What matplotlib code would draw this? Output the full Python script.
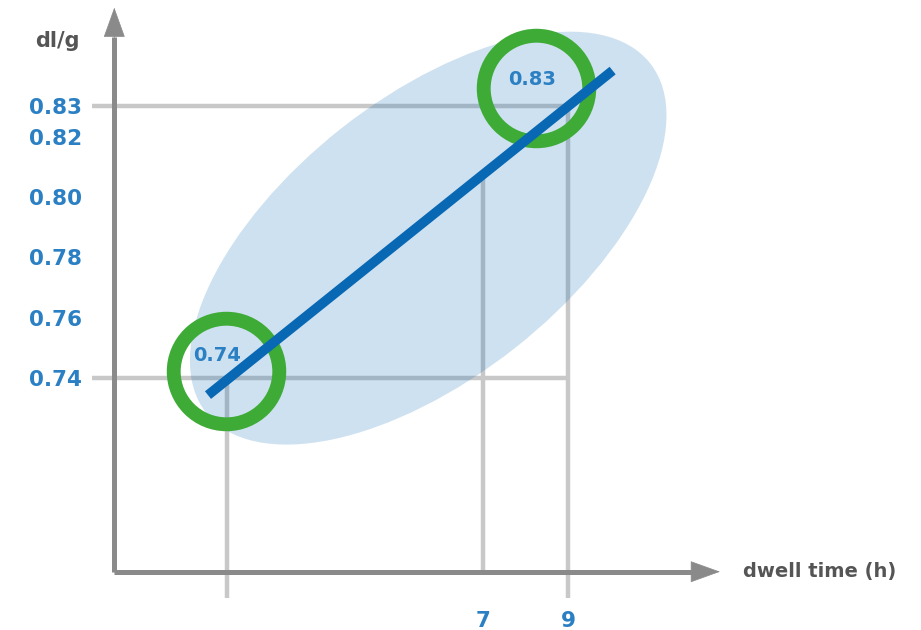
import matplotlib.pyplot as plt
from matplotlib.patches import Ellipse
from matplotlib.transforms import IdentityTransform, ScaledTranslation

# y tick values and x tick values
y_ticks = [0.74, 0.76, 0.78, 0.80, 0.82, 0.83]
y_labels = ['0.74', '0.76', '0.78', '0.80', '0.82', '0.83']
x_ticks = [7, 9]
x_labels = ['7', '9']

# trend line (dwell time h, dl/g)
line_x = [0.55, 10.05]
line_y = [0.7345, 0.8418]

# highlighted points
pts_x = [0.97, 8.25]
pts_y = [0.7424, 0.8359]
pt_labels = ['0.74', '0.83']
pt_label_x = [0.76, 8.15]
pt_label_y = [0.7477, 0.8388]

# ellipse centre
ell_x, ell_y = 5.72, 0.7864

xmin, xmax = -1.65, 13.0
ymin, ymax = 0.6761, 0.8628

blue = '#2b7fc3'
grey_line = '#c8c8c8'
axis_grey = '#8a8a8a'

fig = plt.figure(figsize=(9.21, 6.3), dpi=100)
ax = fig.add_axes([0.1241, 0.0925, 0.6775, 0.8963])
ax.set_xlim(xmin, xmax)
ax.set_ylim(ymin, ymax)
for s in ax.spines.values():
    s.set_visible(False)

# guide lines
ax.plot([-2.17, 9], [0.83, 0.83], color=grey_line, lw=3.2, clip_on=False, zorder=1, solid_capstyle='butt')
ax.plot([-2.17, 9], [0.74, 0.74], color=grey_line, lw=3.2, clip_on=False, zorder=1, solid_capstyle='butt')
ax.plot([1, 1], [0.74, 0.6674], color=grey_line, lw=3.2, clip_on=False, zorder=1, solid_capstyle='butt')
ax.plot([7, 7], [0.8075, ymin], color=grey_line, lw=3.2, clip_on=False, zorder=1, solid_capstyle='butt')
ax.plot([9, 9], [0.83, 0.6674], color=grey_line, lw=3.2, clip_on=False, zorder=1, solid_capstyle='butt')

# axes: thick shafts, sharp arrow heads
ax.plot([xmin, 12.0], [ymin, ymin], color=axis_grey, lw=3.6, clip_on=False, zorder=2, solid_capstyle='butt')
ax.plot([xmin, xmin], [ymin, 0.853], color=axis_grey, lw=3.6, clip_on=False, zorder=2, solid_capstyle='butt')
arrow = dict(arrowstyle='-|>,head_length=2.0,head_width=0.72', lw=0.5, color=axis_grey,
             shrinkA=0, shrinkB=0, mutation_scale=10)
ax.annotate('', xy=(12.57, ymin), xytext=(xmin, ymin), arrowprops=arrow, annotation_clip=False)
ax.annotate('', xy=(xmin, 0.8626), xytext=(xmin, ymin), arrowprops=arrow, annotation_clip=False)

# ellipse (sized in pixels, centred in data)
tr = IdentityTransform() + ScaledTranslation(ell_x, ell_y, ax.transData)
ax.add_patch(Ellipse((0, 0), 565, 280, angle=38.2, transform=tr,
                     facecolor='#0a6ab4', alpha=0.2, edgecolor='none', zorder=3))

# circles and trend line
ax.plot(pts_x, pts_y, 'o', ms=76, mfc='none', mec='#3dab36', mew=10, zorder=4, clip_on=False)
ax.plot(line_x, line_y, color='#0868b3', lw=7, solid_capstyle='butt', zorder=5)
for x, y, t in zip(pt_label_x, pt_label_y, pt_labels):
    ax.text(x, y, t, color=blue, fontsize=14, fontweight='bold', ha='center', va='center', zorder=6)

# ticks
ax.set_yticks(y_ticks, y_labels)
ax.set_xticks(x_ticks, x_labels)
ax.tick_params(axis='y', length=0, pad=23, labelsize=15.5, labelcolor=blue)
ax.tick_params(axis='x', length=0, pad=28, labelsize=15.5, labelcolor=blue)
for lab in ax.get_yticklabels() + ax.get_xticklabels():
    lab.set_fontweight('bold')

fig.text(80 / 921, 1 - 41 / 630, 'dl/g', ha='right', va='center', fontsize=15,
         fontweight='bold', color='#555555')
fig.text(743 / 921, 1 - 572 / 630, 'dwell time (h)', ha='left', va='center', fontsize=14,
         fontweight='bold', color='#555555')

plt.savefig('out.png', dpi=100)
